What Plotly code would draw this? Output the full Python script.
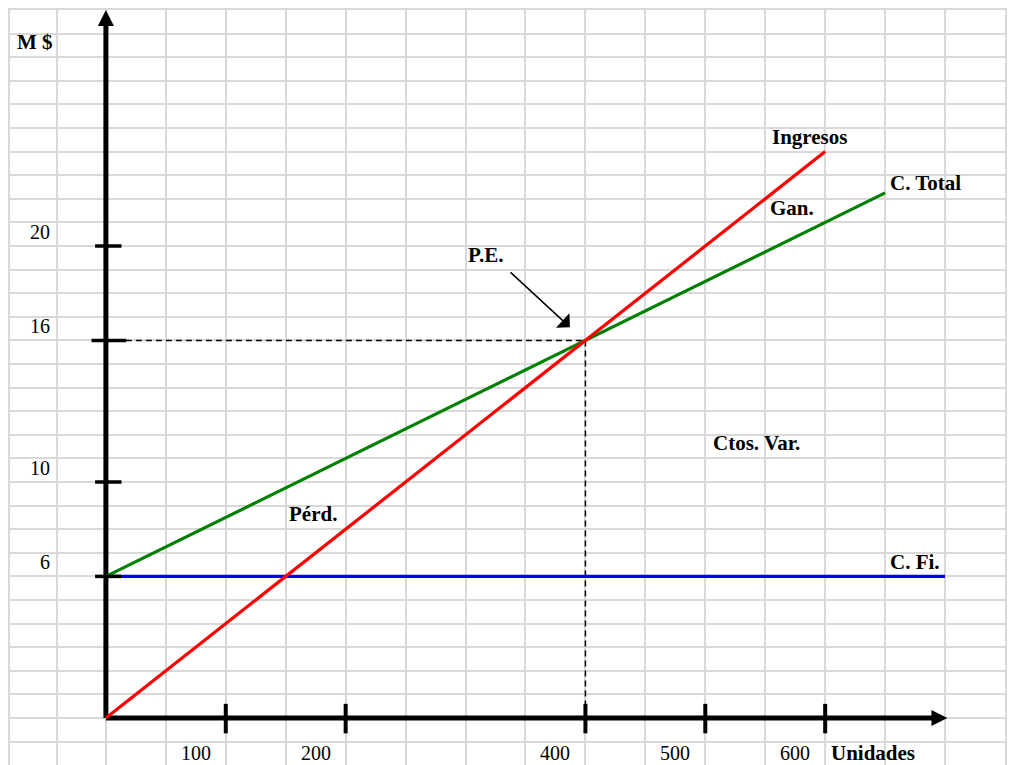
import plotly.graph_objects as go

# Gráfico de punto de equilibrio (M $ contra unidades)
unidades_ingresos = [0, 600]
ingresos = [0, 24]
unidades_ctotal = [0, 650]
costo_total = [6, 22.25]
unidades_cfijo = [0, 700]
costo_fijo = [6, 6]
pe_unidades = 400
pe_monto = 16

y_ticks = [6, 10, 16, 20]
y_tick_labels = ["6", "10", "16", "20"]
x_ticks = [100, 200, 400, 500, 600]
x_tick_labels = ["100", "200", "400", "500", "600"]

FONT = "Liberation Serif, Times New Roman, serif"
GRID = "#d9d9d9"
TXT = 20
TXT_B = 21

fig = go.Figure()

# Ejes con flecha
fig.add_trace(go.Scatter(x=[0, 0], y=[0, 29.4], mode="lines",
                         line=dict(color="black", width=5), hoverinfo="skip"))
fig.add_trace(go.Scatter(x=[0, 695], y=[0, 0], mode="lines",
                         line=dict(color="black", width=5), hoverinfo="skip"))
fig.add_trace(go.Scatter(x=[0], y=[30], mode="markers",
                         marker=dict(symbol="arrow-up", size=16, color="black"), hoverinfo="skip"))
fig.add_trace(go.Scatter(x=[702], y=[0], mode="markers",
                         marker=dict(symbol="arrow-right", size=16, color="black"), hoverinfo="skip"))

# Líneas punteadas hacia el punto de equilibrio
dash = dict(color="black", width=1.5, dash="6px,4px")
fig.add_trace(go.Scatter(x=[0, pe_unidades], y=[pe_monto, pe_monto], mode="lines", line=dash))
fig.add_trace(go.Scatter(x=[pe_unidades, pe_unidades], y=[pe_monto, 0], mode="lines", line=dash))

# Costo fijo, costo total e ingresos
fig.add_trace(go.Scatter(x=unidades_cfijo, y=costo_fijo, mode="lines",
                         line=dict(color="#0000ff", width=3.2)))
fig.add_trace(go.Scatter(x=unidades_ctotal, y=costo_total, mode="lines",
                         line=dict(color="#008000", width=3.2)))
fig.add_trace(go.Scatter(x=unidades_ingresos, y=ingresos, mode="lines",
                         line=dict(color="#ff0000", width=3.2)))

# Marcas sobre los ejes
for v in y_ticks:
    a, b = (-12, 17) if v == pe_monto else (-9, 13)
    fig.add_shape(type="line", x0=a, x1=b, y0=v, y1=v, layer="above",
                  line=dict(color="black", width=3.5))
for v in x_ticks:
    fig.add_shape(type="line", x0=v, x1=v, y0=-0.65, y1=0.6, layer="above",
                  line=dict(color="black", width=4))

ann = []
for v, t in zip(y_ticks, y_tick_labels):
    ann.append(dict(x=-45, y=v + 0.6, text=t, xanchor="right", yanchor="middle",
                    font=dict(size=TXT)))
for v, t in zip(x_ticks, x_tick_labels):
    ann.append(dict(x=v - 25, y=-1.48, text=t, xanchor="center", yanchor="middle",
                    font=dict(size=TXT)))

bold = [
    ("M $", -75.5, 28.64, "left"),
    ("Unidades", 603, -1.48, "left"),
    ("Ingresos", 586.5, 24.62, "center"),
    ("C. Total", 684, 22.67, "center"),
    ("Gan.", 572.3, 21.6, "center"),
    ("P.E.", 317, 19.62, "center"),
    ("Ctos. Var.", 542.3, 11.65, "center"),
    ("C. Fi.", 674.9, 6.61, "center"),
    ("Pérd.", 172.7, 8.64, "center"),
]
for t, x, y, xa in bold:
    ann.append(dict(x=x, y=y, text="<b>" + t + "</b>", xanchor=xa, yanchor="middle",
                    font=dict(size=TXT_B)))
for a in ann:
    a.update(showarrow=False, xref="x", yref="y")

# Flecha que señala el punto de equilibrio
ann.append(dict(x=387.1, y=16.56, ax=336.3, ay=18.94, xref="x", yref="y",
                axref="x", ayref="y", text="", showarrow=True, arrowhead=1,
                arrowsize=2.2, arrowwidth=1.5, arrowcolor="black"))

fig.update_layout(
    width=1011, height=765,
    margin=dict(l=10, r=6, t=10, b=0, pad=0),
    paper_bgcolor="white", plot_bgcolor="white",
    showlegend=False,
    font=dict(family=FONT, color="black", size=TXT),
    annotations=ann,
    xaxis=dict(range=[-80, 750], tickmode="array",
               tickvals=[-41] + list(range(0, 751, 50)),
               showticklabels=False, ticks="", zeroline=False,
               showgrid=True, gridcolor=GRID, gridwidth=2,
               side="top", showline=True, linecolor=GRID, linewidth=2,
               fixedrange=True),
    yaxis=dict(range=[-47 / 23.6, 30], tickmode="array",
               tickvals=list(range(-1, 31)),
               showticklabels=False, ticks="", zeroline=False,
               showgrid=True, gridcolor=GRID, gridwidth=2,
               showline=True, linecolor=GRID, linewidth=2, mirror=True,
               fixedrange=True),
)

fig.write_html("out.html", config={"displayModeBar": False})
